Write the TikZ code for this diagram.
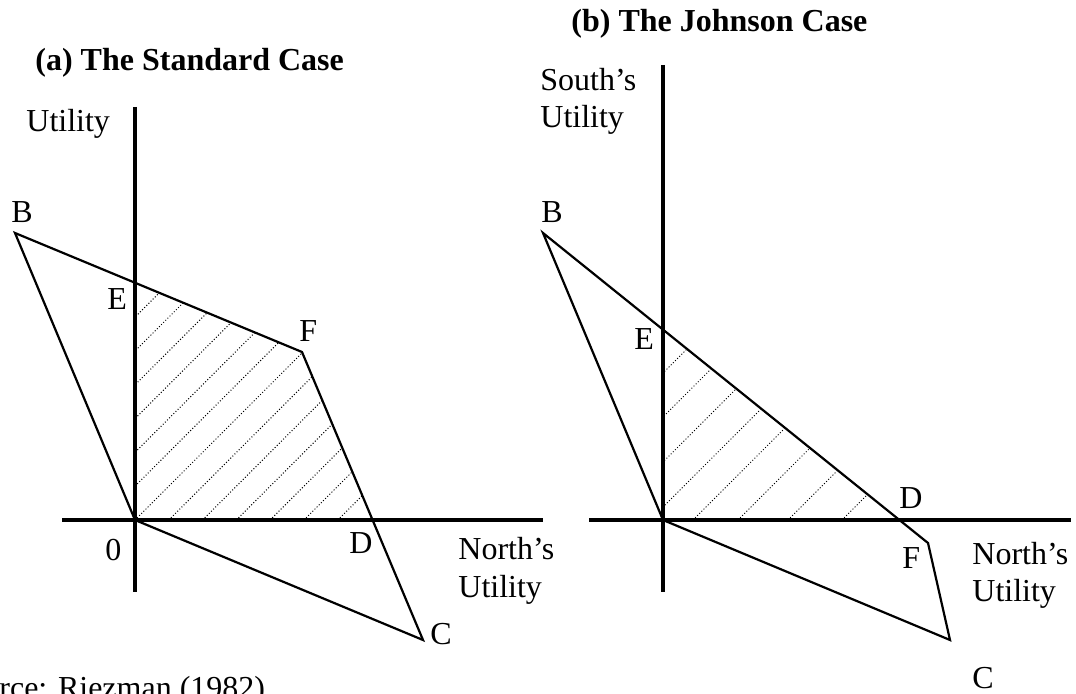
\documentclass[tikz,border=0pt]{standalone}
\usepackage{fontspec}
\setmainfont{Liberation Serif}
\usetikzlibrary{calc}

\begin{document}
\begin{tikzpicture}[
    x=0.5pt, y=-0.5pt,
    axisline/.style={line width=2pt},
    frontier/.style={line width=1.1pt, line join=miter},
    hatchline/.style={line width=0.5pt, dash pattern=on 0.5pt off 1pt},
    letter/.style={inner sep=0pt, anchor=base west,
      font=\fontsize{16}{18.75}\selectfont},
    heading/.style={letter, font=\fontsize{16}{18.75}\selectfont\bfseries},
    axlabel/.style={letter, align=left}
  ]
    \useasboundingbox (0,0) rectangle (1076,694);

    % (a) standard case
    \coordinate (aO) at (135,520);
    \coordinate (aB) at (15,233);
    \coordinate (aE) at (135,283);
    \coordinate (aF) at (302,352);
    \coordinate (aC) at (423,640);
    \coordinate (aD) at (373,520);
    \coordinate (aTop) at (135,107);
    \coordinate (aBot) at (135,592);
    \coordinate (aLeft) at (62,520);
    \coordinate (aRight) at (543,520);

    \begin{scope}
      \clip (aO) -- (aE) -- (aF) -- (aD) -- cycle;
      \foreach \k in {-6,...,6}
        \draw[hatchline] ($(aO)+({33.8*\k},0)$) -- ++(300,-300);
    \end{scope}
    \draw[axisline] (aTop) -- (aBot);
    \draw[axisline] (aLeft) -- (aRight);
    \draw[frontier] (aB) -- (aF) -- (aC) -- (aO) -- cycle;

    \node[heading] (aTitle) at (35,71) {(a) The Standard Case};
    \node[letter] (aYlab) at (26,132) {Utility};
    \node[letter] (aBlab) at (11,223) {B};
    \node[letter] (aElab) at (107,310) {E};
    \node[letter] (aFlab) at (299,342) {F};
    \node[letter] (aOlab) at (105,561) {0};
    \node[letter] (aDlab) at (349,553) {D};
    \node[axlabel] (aXlab) at (458,597) {North’s\\Utility};
    \node[letter] (aClab) at (430,644) {C};
    \node[letter] (source) at (-1,698) {rce: Riezman (1982).};

    % (b) Johnson case
    \coordinate (bO) at (663,520);
    \coordinate (bB) at (543,233);
    \coordinate (bE) at (663,331);
    \coordinate (bD) at (897,520);
    \coordinate (bF) at (928,543);
    \coordinate (bC) at (950,640);
    \coordinate (bTop) at (663,65);
    \coordinate (bBot) at (663,592);
    \coordinate (bLeft) at (589,520);
    \coordinate (bRight) at (1071,520);

    \begin{scope}
      \clip (bO) -- (bE) -- (bD) -- cycle;
      \foreach \c in {-147,-103,-58,-13,30,75,125,179}
        \draw[hatchline] ($(bO)+(\c,0)$) -- ++(400,-400);
    \end{scope}
    \draw[axisline] (bTop) -- (bBot);
    \draw[axisline] (bLeft) -- (bRight);
    \draw[frontier] (bB) -- (bF) -- (bC) -- (bO) -- cycle;

    \node[heading] (bTitle) at (571,32) {(b) The Johnson Case};
    \node[axlabel] (bYlab) at (540,128) {South’s\\Utility};
    \node[letter] (bBlab) at (541,223) {B};
    \node[letter] (bElab) at (634,350) {E};
    \node[letter] (bDlab) at (899,509) {D};
    \node[letter] (bFlab) at (902,568) {F};
    \node[axlabel] (bXlab) at (972,602) {North’s\\Utility};
    \node[letter] (bClab) at (972,688) {C};
  \end{tikzpicture}
\end{document}
